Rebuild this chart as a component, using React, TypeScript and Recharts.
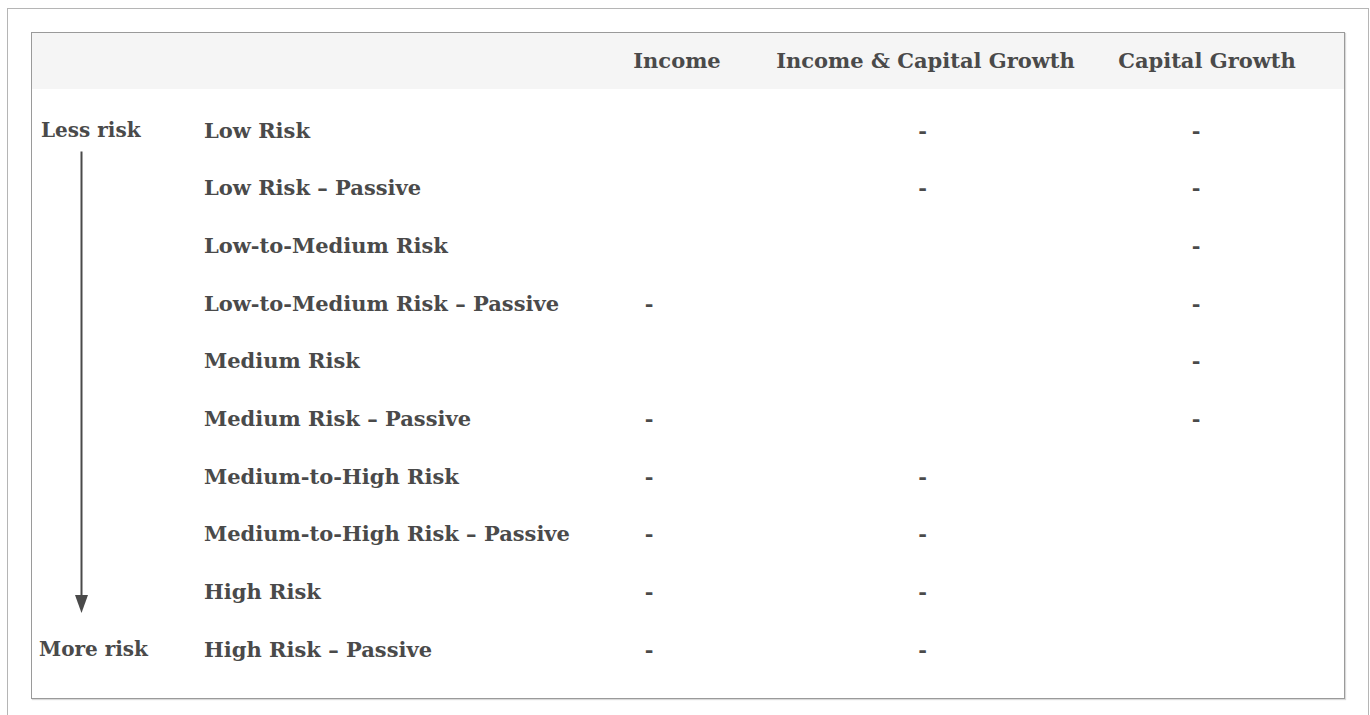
import { ScatterChart, Scatter, XAxis, YAxis, ReferenceArea } from 'recharts';

const ROWS = [
  'Low Risk',
  'Low Risk – Passive',
  'Low-to-Medium Risk',
  'Low-to-Medium Risk – Passive',
  'Medium Risk',
  'Medium Risk – Passive',
  'Medium-to-High Risk',
  'Medium-to-High Risk – Passive',
  'High Risk',
  'High Risk – Passive',
];

const COLUMNS = ['Income', 'Income & Capital Growth', 'Capital Growth'];

// one entry per row, "-" where the fund exists
const INCOME = ['', '', '', '-', '', '-', '-', '-', '-', '-'];
const INCOME_CAPITAL = ['-', '-', '', '', '', '', '-', '-', '-', '-'];
const CAPITAL = ['-', '-', '-', '-', '-', '-', '', '', '', ''];

const RISK_TOP = 'Less risk';
const RISK_BOTTOM = 'More risk';

const MARKS = [INCOME, INCOME_CAPITAL, CAPITAL];

const points = MARKS.flatMap((col, c) =>
  col.map((v, r) => ({ x: c, y: r, mark: v })).filter((p) => p.mark !== '')
);

const FONT = "'DejaVu Serif', Georgia, serif";
const INK = '#4a4a4a';
const FONT_SIZE = 21;
const SIDE_SIZE = 20;

// header text nudges relative to the dash column
const HEADER_DX = [28, 3, 11];

const RowTick = (props: any) => {
  const { y, payload, index, visibleTicksCount } = props;
  const i = payload.value as number;
  return (
    <g>
      <text x={172} y={y} dy={7.5} fontFamily={FONT} fontWeight="bold" fontSize={FONT_SIZE} fill={INK}>
        {ROWS[i]}
      </text>
      {index === 0 && (
        <text x={9} y={y} dy={7} fontFamily={FONT} fontWeight="bold" fontSize={SIDE_SIZE} fill={INK}>
          {RISK_TOP}
        </text>
      )}
      {index === visibleTicksCount - 1 && (
        <text x={7} y={y} dy={7} fontFamily={FONT} fontWeight="bold" fontSize={SIDE_SIZE} fill={INK}>
          {RISK_BOTTOM}
        </text>
      )}
    </g>
  );
};

const HeaderTick = (props: any) => {
  const { x, payload } = props;
  const i = payload.value as number;
  return (
    <text x={x + HEADER_DX[i]} y={35} textAnchor="middle" fontFamily={FONT} fontWeight="bold" fontSize={FONT_SIZE} fill={INK}>
      {COLUMNS[i]}
    </text>
  );
};

const Dash = (props: any) => {
  const { cx, cy, payload } = props;
  return (
    <text x={cx} y={cy} dy={7.5} textAnchor="middle" fontFamily={FONT} fontWeight="bold" fontSize={FONT_SIZE} fill={INK}>
      {payload.mark}
    </text>
  );
};

const RiskArrow = (props: any) => {
  const { y, height } = props;
  const ax = 49.5;
  const start = y + 21.5;
  const tip = y + height - 36;
  const base = tip - 18;
  return (
    <g>
      <line x1={ax} y1={start} x2={ax} y2={base + 1} stroke={INK} strokeWidth={2} />
      <polygon points={`${ax - 6.5},${base} ${ax + 6.5},${base} ${ax},${tip}`} fill={INK} />
    </g>
  );
};

export default function App() {
  return (
    <div
      style={{
        position: 'fixed',
        left: 7,
        top: 8,
        width: 1362,
        height: 707,
        boxSizing: 'border-box',
        borderTop: '1px solid #b5b5b5',
        borderLeft: '1px solid #b5b5b5',
        borderRight: '1px solid #b5b5b5',
        background: '#fff',
        overflow: 'hidden',
      }}
    >
      <div
        style={{
          position: 'absolute',
          left: 23,
          top: 23,
          width: 1314,
          height: 667,
          boxSizing: 'border-box',
          border: '1px solid #9a9a9a',
          boxShadow: '1px 1px 1px rgba(0,0,0,0.15)',
        }}
      >
        <div style={{ position: 'absolute', left: 0, top: 0, width: 1312, height: 56, background: '#f5f5f5' }} />
        <div style={{ position: 'absolute', left: 0, top: 0 }}>
          <ScatterChart width={1312} height={665} margin={{ top: 0, right: 148, bottom: 49, left: 0 }}>
            <XAxis
              type="number"
              dataKey="x"
              orientation="top"
              domain={[0, COLUMNS.length - 1]}
              ticks={COLUMNS.map((_, i) => i)}
              height={97}
              axisLine={false}
              tickLine={false}
              tick={<HeaderTick />}
              interval={0}
            />
            <YAxis
              type="number"
              dataKey="y"
              reversed
              domain={[0, ROWS.length - 1]}
              ticks={ROWS.map((_, i) => i)}
              width={617}
              axisLine={false}
              tickLine={false}
              tick={<RowTick />}
              interval={0}
            />
            <ReferenceArea y1={0} y2={ROWS.length - 1} fill="none" shape={(p: any) => <RiskArrow {...p} />} />
            <Scatter data={points} shape={<Dash />} isAnimationActive={false} />
          </ScatterChart>
        </div>
      </div>
    </div>
  );
}
